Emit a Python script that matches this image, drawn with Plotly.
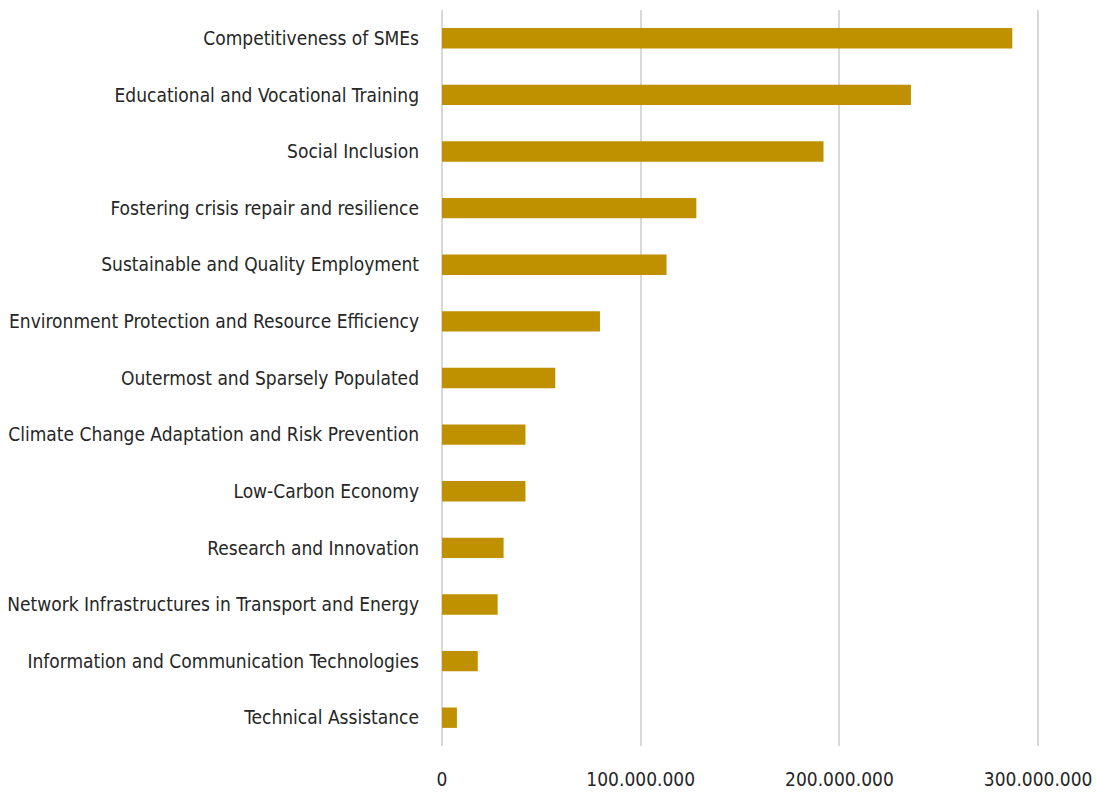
import plotly.graph_objects as go

# Thematic objectives, listed top to bottom
categories = [
    "Competitiveness of SMEs",
    "Educational and Vocational Training",
    "Social Inclusion",
    "Fostering crisis repair and resilience",
    "Sustainable and Quality Employment",
    "Environment Protection and Resource Efficiency",
    "Outermost and Sparsely Populated",
    "Climate Change Adaptation and Risk Prevention",
    "Low-Carbon Economy",
    "Research and Innovation",
    "Network Infrastructures in Transport and Energy",
    "Information and Communication Technologies",
    "Technical Assistance",
]

amounts = [
    287_000_000,
    236_000_000,
    192_000_000,
    128_000_000,
    113_000_000,
    79_500_000,
    57_000_000,
    42_000_000,
    42_000_000,
    31_000_000,
    28_000_000,
    18_000_000,
    7_500_000,
]

tick_values = [0, 100_000_000, 200_000_000, 300_000_000]

FONT = "DejaVu Sans Condensed, Liberation Sans Narrow, sans-serif"
BAR_COLOR = "#bf9000"
GRID_COLOR = "#d9d9d9"

fig = go.Figure(
    go.Bar(
        x=amounts,
        y=categories,
        orientation="h",
        marker=dict(color=BAR_COLOR, line=dict(width=0)),
        hoverinfo="x+y",
    )
)

fig.update_layout(
    width=1096,
    height=792,
    margin=dict(l=442, r=38, t=10, b=46),
    paper_bgcolor="white",
    plot_bgcolor="white",
    bargap=0.64,
    separators=",.",
    showlegend=False,
    font=dict(family=FONT, size=19, color="#262626"),
)

fig.update_xaxes(
    range=[0, 310_000_000],
    tickvals=tick_values,
    tickformat=",d",
    showgrid=True,
    gridcolor=GRID_COLOR,
    gridwidth=2,
    zeroline=True,
    zerolinecolor=GRID_COLOR,
    zerolinewidth=2,
    showline=False,
    ticks="",
    automargin=False,
    ticklabelstandoff=20,
    tickfont=dict(family=FONT, size=19, color="#262626"),
)

fig.update_yaxes(
    categoryorder="array",
    categoryarray=categories[::-1],
    showgrid=False,
    showline=False,
    ticks="",
    automargin=False,
    ticklabelstandoff=22,
    tickfont=dict(family=FONT, size=19, color="#262626"),
)

fig.write_html("out.html")
